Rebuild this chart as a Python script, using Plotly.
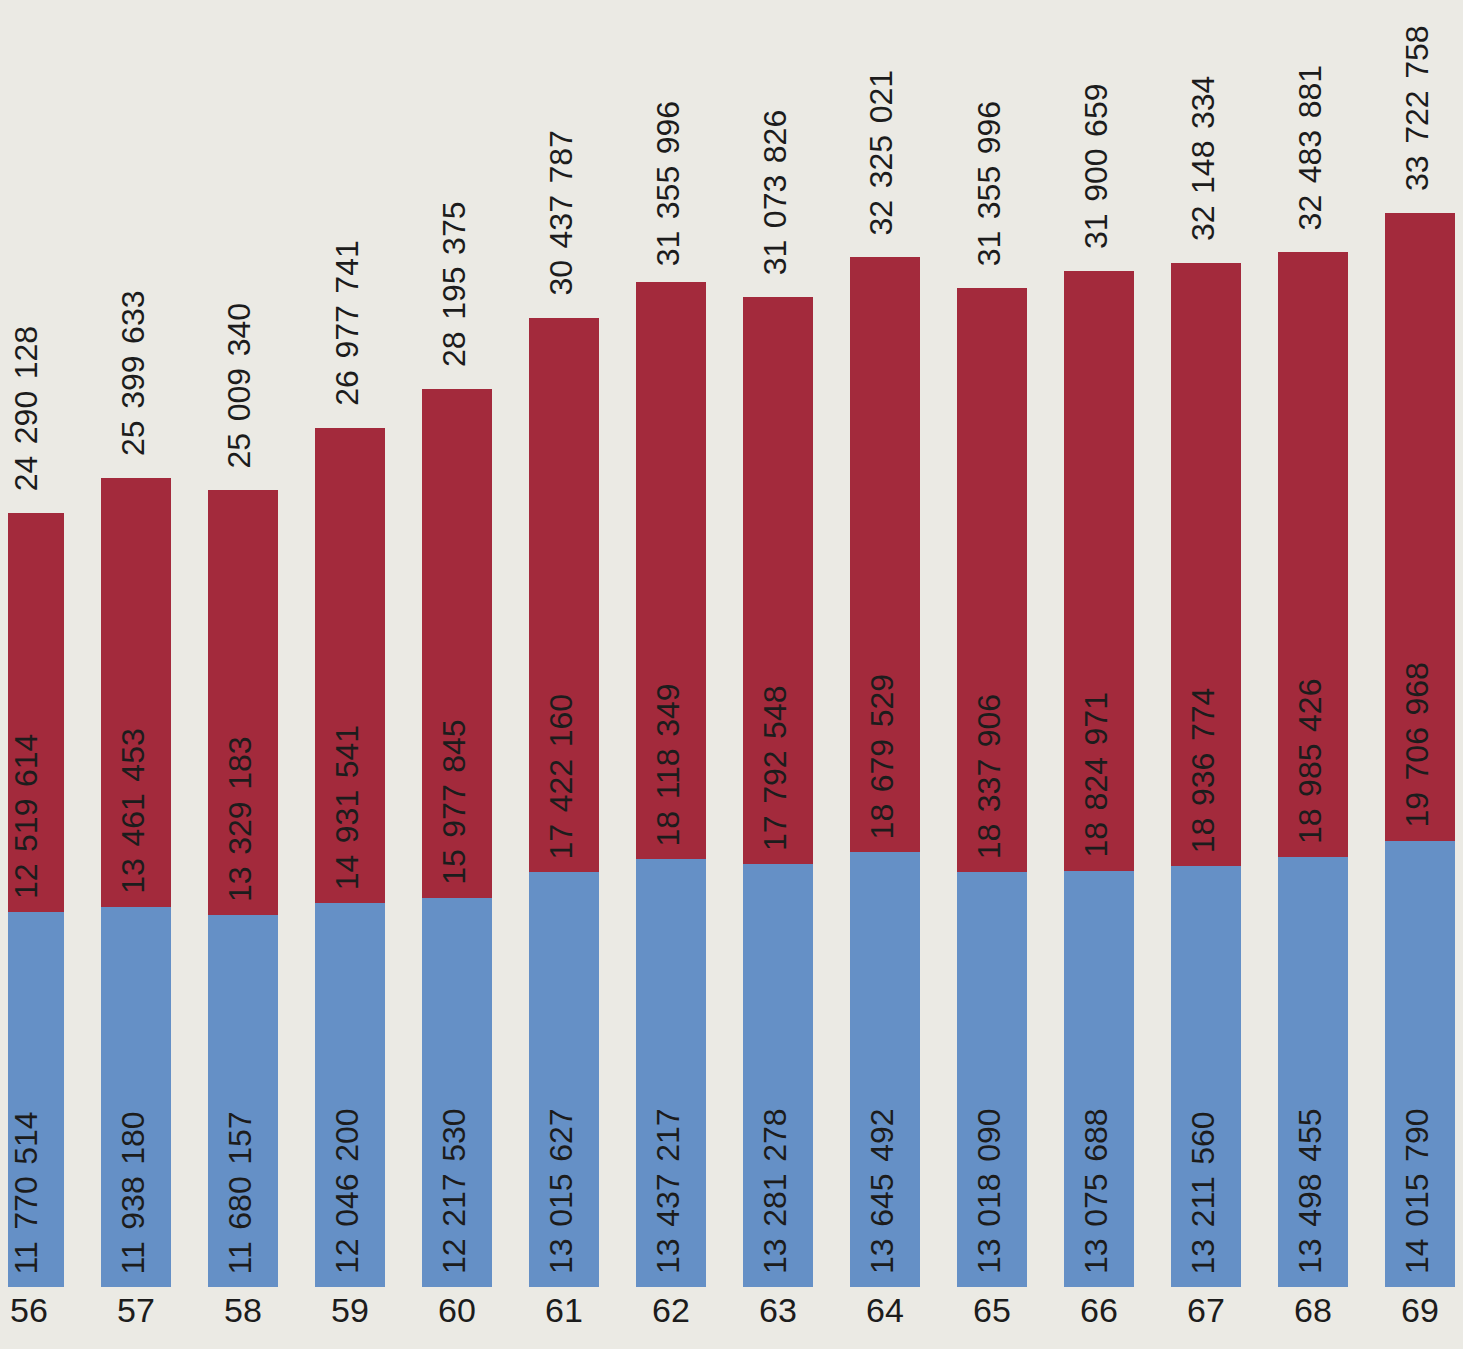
import plotly.graph_objects as go

years = [56, 57, 58, 59, 60, 61, 62, 63, 64, 65, 66, 67, 68, 69]
year_labels = ["56", "57", "58", "59", "60", "61", "62", "63", "64", "65", "66", "67", "68", "69"]
blue_values = [11770514, 11938180, 11680157, 12046200, 12217530, 13015627, 13437217,
               13281278, 13645492, 13018090, 13075688, 13211560, 13498455, 14015790]
red_values = [12519614, 13461453, 13329183, 14931541, 15977845, 17422160, 18118349,
              17792548, 18679529, 18337906, 18824971, 18936774, 18985426, 19706968]
totals = [24290128, 25399633, 25009340, 26977741, 28195375, 30437787, 31355996,
          31073826, 32325021, 31355996, 31900659, 32148334, 32483881, 33722758]

BLUE = "#6590c6"
RED = "#a32a3c"
BG = "#ebeae4"
TXT = "#1c1c1c"
FONT = "Liberation Sans, Arial, sans-serif"
SEP = " \u200a"


def fmt(v):
    return f"{v:,}".replace(",", SEP)


fig = go.Figure()
fig.add_trace(go.Bar(x=years, y=blue_values, marker=dict(color=BLUE, line=dict(width=0)),
                     width=0.654, hoverinfo="skip"))
fig.add_trace(go.Bar(x=years, y=red_values, marker=dict(color=RED, line=dict(width=0)),
                     width=0.654, hoverinfo="skip"))

annotations = []
for x, b, r, t in zip(years, blue_values, red_values, totals):
    annotations.append(dict(x=x, y=0, text=fmt(b), textangle=-90, showarrow=False,
                            xanchor="center", yanchor="bottom", yshift=11, xshift=-3,
                            font=dict(size=32, color=TXT, family=FONT)))
    annotations.append(dict(x=x, y=b, text=fmt(r), textangle=-90, showarrow=False,
                            xanchor="center", yanchor="bottom", yshift=11, xshift=-3,
                            font=dict(size=32, color=TXT, family=FONT)))
    annotations.append(dict(x=x, y=t, text=fmt(t), textangle=-90, showarrow=False,
                            xanchor="center", yanchor="bottom", yshift=20, xshift=-3,
                            font=dict(size=32, color=TXT, family=FONT)))

fig.update_layout(
    barmode="stack",
    width=1463, height=1349,
    margin=dict(l=8, r=0, t=0, b=62),
    paper_bgcolor=BG, plot_bgcolor=BG,
    showlegend=False,
    annotations=annotations,
    xaxis=dict(range=[55.804, 69.402], tickvals=years, ticktext=year_labels,
               showgrid=False, zeroline=False, showline=False, ticks="",
               tickfont=dict(size=34, color=TXT, family=FONT), fixedrange=True),
    yaxis=dict(range=[0, 40.41e6], visible=False, showgrid=False, zeroline=False,
               fixedrange=True),
)

fig.write_html("out.html",
               config={"displayModeBar": False},
               post_script="document.body.style.margin='0';"
                           "document.body.style.background='" + BG + "';")
